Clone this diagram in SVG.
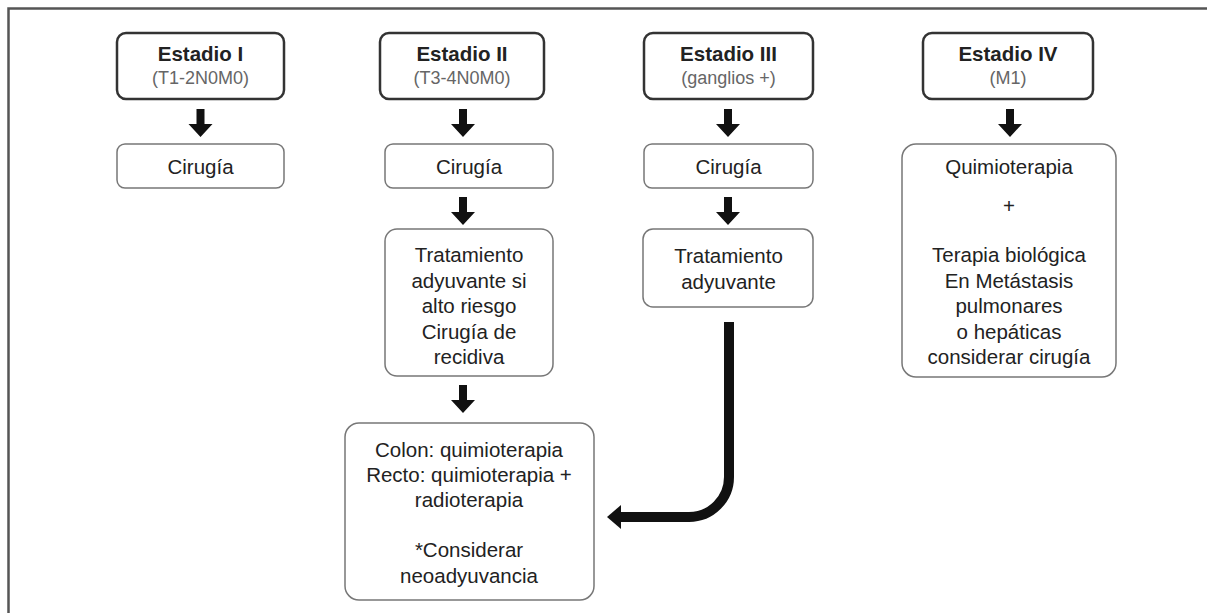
<svg xmlns="http://www.w3.org/2000/svg" width="1207" height="613" viewBox="0 0 1207 613">
<style>
.frame{fill:none;stroke:#555;stroke-width:2.5}
.stage{fill:#fff;stroke:#333;stroke-width:2.5}
.box{fill:#fff;stroke:#777;stroke-width:1.5}
.t{font-family:"Liberation Sans",Arial,sans-serif;font-size:20.5px;fill:#222;text-anchor:middle}
.b{font-family:"Liberation Sans",Arial,sans-serif;font-size:20.5px;font-weight:bold;fill:#222;text-anchor:middle}
.s{font-family:"Liberation Sans",Arial,sans-serif;font-size:18px;fill:#666;text-anchor:middle}
.arr{fill:#111}
.curve{fill:none;stroke:#111;stroke-width:10}
</style>
<defs>
<path id="down" d="M-4,0 H4 V15 H12 L0,28 L-12,15 H-4 Z"/>
</defs>
<rect width="1207" height="613" fill="#fff"/>
<path class="frame" d="M8.5,613 V8.5 H1207"/>

<g id="stage1">
<rect class="stage" x="117" y="33" width="167" height="66" rx="9"/>
<text class="b" x="200.5" y="61">Estadio I</text>
<text class="s" x="200.5" y="84">(T1-2N0M0)</text>
</g>
<g id="cirugia1">
<rect class="box" x="117" y="144" width="167" height="44" rx="8"/>
<text class="t" x="200.5" y="174">Cirugía</text>
</g>

<g id="stage2">
<rect class="stage" x="380" y="33" width="164" height="66" rx="9"/>
<text class="b" x="462" y="61">Estadio II</text>
<text class="s" x="462" y="84">(T3-4N0M0)</text>
</g>
<g id="cirugia2">
<rect class="box" x="385" y="144" width="168" height="44" rx="8"/>
<text class="t" x="469" y="174">Cirugía</text>
</g>
<g id="tratamiento2">
<rect class="box" x="385" y="229" width="168" height="147" rx="12"/>
<text class="t" x="469" y="262">Tratamiento</text>
<text class="t" x="469" y="287.5">adyuvante si</text>
<text class="t" x="469" y="313">alto riesgo</text>
<text class="t" x="469" y="338.5">Cirugía de</text>
<text class="t" x="469" y="364">recidiva</text>
</g>
<g id="colon">
<rect class="box" x="345" y="423" width="249" height="177" rx="14"/>
<text class="t" x="469" y="457">Colon: quimioterapia</text>
<text class="t" x="469" y="482">Recto: quimioterapia +</text>
<text class="t" x="469" y="507">radioterapia</text>
<text class="t" x="469" y="557">*Considerar</text>
<text class="t" x="469" y="583">neoadyuvancia</text>
</g>

<g id="stage3">
<rect class="stage" x="644" y="33" width="169" height="66" rx="9"/>
<text class="b" x="728.5" y="61">Estadio III</text>
<text class="s" x="728.5" y="84">(ganglios +)</text>
</g>
<g id="cirugia3">
<rect class="box" x="644" y="144" width="169" height="44" rx="8"/>
<text class="t" x="728.5" y="174">Cirugía</text>
</g>
<g id="tratamiento3">
<rect class="box" x="643" y="229" width="170" height="78" rx="10"/>
<text class="t" x="728.5" y="263">Tratamiento</text>
<text class="t" x="728.5" y="289">adyuvante</text>
</g>

<g id="stage4">
<rect class="stage" x="923" y="33" width="170" height="66" rx="9"/>
<text class="b" x="1008" y="61">Estadio IV</text>
<text class="s" x="1008" y="84">(M1)</text>
</g>
<g id="quimio4">
<rect class="box" x="902" y="144" width="214" height="233" rx="14"/>
<text class="t" x="1009" y="174">Quimioterapia</text>
<text class="t" x="1009" y="213">+</text>
<text class="t" x="1009" y="262">Terapia biológica</text>
<text class="t" x="1009" y="287.5">En Metástasis</text>
<text class="t" x="1009" y="313">pulmonares</text>
<text class="t" x="1009" y="338.5">o hepáticas</text>
<text class="t" x="1009" y="364">considerar cirugía</text>
</g>

<g id="connectors">
<use href="#down" class="arr" x="200.5" y="109"/>
<use href="#down" class="arr" x="463" y="109"/>
<use href="#down" class="arr" x="728" y="109"/>
<use href="#down" class="arr" x="1010" y="109"/>
<use href="#down" class="arr" x="463" y="197"/>
<use href="#down" class="arr" x="728" y="197"/>
<use href="#down" class="arr" x="463" y="385"/>
<path class="curve" d="M729,322 V477 A40,40 0 0 1 689,517 H618"/>
<path class="arr" d="M607,517 L621,505 V529 Z"/>
</g>
</svg>
